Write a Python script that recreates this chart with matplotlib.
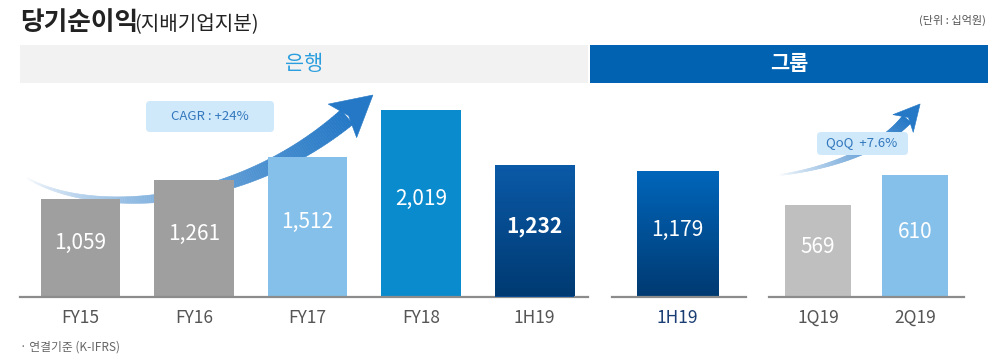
import numpy as np
import matplotlib
matplotlib.use("Agg")
import matplotlib.pyplot as plt
from matplotlib.collections import PolyCollection
from matplotlib.patches import Rectangle, FancyBboxPatch, Polygon
from matplotlib.colors import to_rgb, LinearSegmentedColormap

plt.rcParams['font.family'] = ['Noto Sans CJK KR', 'DejaVu Sans']

# data (십억원)
bank_years = ['FY15', 'FY16', 'FY17', 'FY18']
bank_year_vals = [1059, 1261, 1512, 2019]
bank_year_colors = ['#a09f9f', '#a09f9f', '#85c0ea', '#0a8bcd']
bank_half_label = '1H19'
bank_half_val = 1232
group_half_label = '1H19'
group_half_val = 1179
group_quarters = ['1Q19', '2Q19']
group_quarter_vals = [569, 610]
group_quarter_colors = ['#c0bfbf', '#85c0ea']

W, H = 1000, 363
fig = plt.figure(figsize=(W / 100, H / 100), dpi=100)

# background layer in pixel coords (y down)
bg = fig.add_axes([0, 0, 1, 1], zorder=0)
bg.set_xlim(0, W)
bg.set_ylim(H, 0)
bg.axis('off')

t1 = bg.text(20, 23, '당기순이익', fontsize=18.5, fontweight='bold', color='#222222',
             va='center', ha='left')
bg.annotate('(지배기업지분)', xy=(1, 0), xycoords=t1, xytext=(-3, 1), textcoords='offset points',
            fontsize=14.5, color='#222222', ha='left', va='bottom')
bg.text(986, 20, '(단위 : 십억원)', fontsize=8, color='#555555', ha='right', va='center')

bg.add_patch(Rectangle((20, 45), 568, 38, facecolor='#f2f2f2', edgecolor='none'))
bg.add_patch(Rectangle((590, 45), 398, 38, facecolor='#0062b1', edgecolor='none'))
bg.text(304, 64, '은행', fontsize=15, color='#2a9ede', ha='center', va='center')
bg.text(789, 64, '그룹', fontsize=15, color='white', fontweight='bold', ha='center', va='center')

bg.text(20, 347, '· 연결기준 (K-IFRS)', fontsize=8.5, color='#666666', ha='left', va='center')


def draw_arrow(ax, ctrl, w0, w1, head_len, head_w, c_head):
    p0, p1, p2, p3 = map(np.asarray, ctrl)
    t = np.linspace(0, 1, 180)[:, None]
    pts = ((1 - t) ** 3 * p0 + 3 * (1 - t) ** 2 * t * p1
           + 3 * (1 - t) * t ** 2 * p2 + t ** 3 * p3)
    d = (3 * (1 - t) ** 2 * (p1 - p0) + 6 * (1 - t) * t * (p2 - p1)
         + 3 * t ** 2 * (p3 - p2))
    d = d / np.linalg.norm(d, axis=1, keepdims=True)
    n = np.column_stack([-d[:, 1], d[:, 0]])
    w = (w0 + (w1 - w0) * t[:, 0] ** 1.2)[:, None]
    left = pts + n * w / 2
    right = pts - n * w / 2
    ch = np.array(to_rgb(c_head))
    polys, cols = [], []
    for i in range(len(pts) - 1):
        polys.append([left[i], left[i + 1], right[i + 1], right[i]])
        a = ((i + 0.5) / (len(pts) - 1)) ** 0.75
        cols.append(tuple((1 - a) * np.ones(3) + a * ch))
    ax.add_collection(PolyCollection(polys, facecolors=cols, edgecolors=cols, linewidths=0.4,
                                     zorder=1))
    de, ne = d[-1], n[-1]
    tip = p3 + de * head_len
    head = [p3 + ne * head_w / 2 - de * 6, tip, p3 - ne * head_w / 2 - de * 6, p3 + de * 2]
    ax.add_patch(Polygon(head, closed=True, facecolor=c_head, edgecolor=c_head, lw=0.4, zorder=1))


draw_arrow(bg, [(27, 178), (90, 215), (235, 212), (347, 117)], 1, 19, 34, 44, '#2478c6')
draw_arrow(bg, [(780, 175), (830, 168), (880, 150), (907, 119)], 1, 11, 20, 27, '#2478c6')

bg.add_patch(FancyBboxPatch((148, 103), 124, 27, boxstyle='round,pad=2,rounding_size=4',
                            facecolor='#cfe9fb', edgecolor='none', zorder=2))
bg.text(210, 116, 'CAGR : +24%', fontsize=9.5, color='#3277bd', ha='center', va='center', zorder=3)
bg.add_patch(FancyBboxPatch((819, 134), 87, 19, boxstyle='round,pad=2,rounding_size=4',
                            facecolor='#cfe9fb', edgecolor='none', zorder=2))
bg.text(862, 143, 'QoQ  +7.6%', fontsize=9.5, color='#3277bd', ha='center', va='center', zorder=3)

# bar axes
base_px = 296.5
top_px = 90
hfrac = (base_px - top_px) / H
bfrac = (H - base_px) / H
half_top = 206.5 / 0.1065


def make_ax(x0, x1, xlim, ylim):
    ax = fig.add_axes([x0 / W, bfrac, (x1 - x0) / W, hfrac], zorder=2)
    ax.set_facecolor('none')
    for s in ['top', 'left', 'right']:
        ax.spines[s].set_visible(False)
    ax.spines['bottom'].set_color('#8c8c8c')
    ax.spines['bottom'].set_linewidth(1.6)
    ax.set_yticks([])
    ax.tick_params(axis='x', length=0, pad=9, labelsize=12.5, labelcolor='#555555')
    ax.set_xlim(*xlim)
    ax.set_ylim(*ylim)
    return ax


def add_gradient(ax, patch, c_top, c_bot):
    x0, y0 = patch.get_x(), patch.get_y()
    x1, y1 = x0 + patch.get_width(), y0 + patch.get_height()
    cmap = LinearSegmentedColormap.from_list('g', [c_bot, c_top])
    grad = np.linspace(0, 1, 256)[:, None]
    im = ax.imshow(grad, extent=[x0, x1, y0, y1], origin='lower', aspect='auto', cmap=cmap,
                   zorder=patch.get_zorder() + 0.1)
    im.set_clip_path(patch)


def label(ax, x, v, bottom, text, weight='light'):
    ax.annotate(text, xy=(x, (bottom + v) / 2), xytext=(0, 3), textcoords='offset points',
                ha='center', va='center', fontsize=15, color='white', fontweight=weight, zorder=5)


# bank: full years
ax_b = make_ax(20, 588, (-0.533, 4.471), (0, 206.5 / 0.0925))
xs = np.arange(len(bank_years))
ax_b.bar(xs, bank_year_vals, width=0.70, color=bank_year_colors)
for x, v in zip(xs, bank_year_vals):
    label(ax_b, x, v, 0, f'{v:,}')
ax_b.set_xticks(list(xs) + [4])
ax_b.set_xticklabels(bank_years + [bank_half_label])

# bank: half year (separate scale)
ax_bh = make_ax(20, 588, (-0.533, 4.471), (0, half_top))
ax_bh.spines['bottom'].set_visible(False)
ax_bh.set_xticks([])
bars = ax_bh.bar([4], [bank_half_val], width=0.70, color='#0a4c8f')
add_gradient(ax_bh, bars[0], '#0b5aa8', '#003a72')
label(ax_bh, 4, bank_half_val, 0, f'{bank_half_val:,}', 'bold')
ax_bh.set_xlim(-0.533, 4.471)
ax_bh.set_ylim(0, half_top)

# group: half year
ax_g = make_ax(612, 746, (-0.577, 0.604), (0, half_top))
bars = ax_g.bar([0], [group_half_val], width=0.714, color='#004f95')
add_gradient(ax_g, bars[0], '#0066bb', '#003a72')
label(ax_g, 0, group_half_val, 0, f'{group_half_val:,}', 'normal')
ax_g.set_xticks([0])
ax_g.set_xticklabels([group_half_label], color='#1a3e74')
ax_g.set_xlim(-0.577, 0.604)
ax_g.set_ylim(0, half_top)

# group: quarters
q_bottom = 444.6
ax_q = make_ax(769, 964, (-0.505, 1.505), (q_bottom, q_bottom + 206.5 / 0.7317))
qx = np.arange(len(group_quarters))
ax_q.bar(qx, np.array(group_quarter_vals) - q_bottom, bottom=q_bottom, width=0.68,
         color=group_quarter_colors)
for x, v in zip(qx, group_quarter_vals):
    label(ax_q, x, v, q_bottom, f'{v:,}', 'light' if x == 0 else 'normal')
ax_q.set_xticks(qx)
ax_q.set_xticklabels(group_quarters)

fig.savefig('out.png', dpi=100)
